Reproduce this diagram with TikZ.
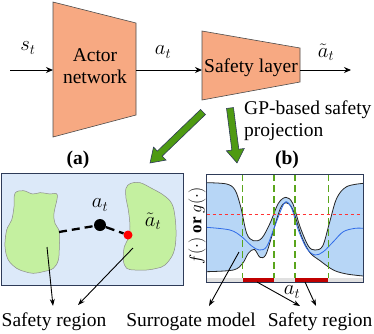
\documentclass[tikz,border=0pt]{standalone}
\usepackage{fontspec}
\setmainfont{Liberation Serif}
\usetikzlibrary{arrows.meta}
\definecolor{salmon}{HTML}{F7A982}
\definecolor{boxblue}{HTML}{DCE9F9}
\definecolor{frame}{HTML}{2E3B58}
\definecolor{blobgreen}{HTML}{C4F0A0}
\definecolor{fatgreen}{HTML}{4E9A12}
\definecolor{vgreen}{HTML}{5AA51C}
\definecolor{bandblue}{HTML}{B7D6F6}
\definecolor{meanblue}{HTML}{2F6BE8}
\definecolor{barred}{HTML}{C00000}
\tikzset{
  netbox/.style={fill=salmon, draw=black!70, line width=0.6pt},
  lbl/.style={font=\fontsize{19.5}{21}\selectfont, inner sep=0pt},
  mlbl/.style={font=\fontsize{22}{24}\selectfont, inner sep=0pt},
  flow/.style={-{Stealth[length=7pt,width=6pt]}, line width=1pt},
  thinarrow/.style={-{Stealth[length=7pt,width=5pt]}, line width=0.9pt},
  fatarrow/.style={fill=fatgreen, draw=frame, line width=0.6pt},
  blob/.style={fill=blobgreen, draw=black!45, line width=0.5pt},
}
\begin{document}
\begin{tikzpicture}[x=1pt,y=-1pt]
\useasboundingbox (0,0) rectangle (374,333);
% actor network
\draw[netbox] (53,2) -- (136,23) -- (136,115) -- (53,137) -- cycle;
\node[lbl, align=center] (actor) at (95,66) {Actor\\[1pt]network};
% safety layer
\draw[netbox] (202,31) -- (300,48) -- (300,82) -- (202,100) -- cycle;
\node[lbl] (safety) at (251,68) {Safety layer};
% flow arrows
\coordinate (in0) at (10,70);
\coordinate (actL) at (53,70);
\coordinate (actR) at (136,70);
\coordinate (safL) at (202,70);
\coordinate (safR) at (300,70);
\coordinate (out1) at (351,70);
\draw[flow] (in0) -- (actL);
\draw[flow] (actR) -- (safL);
\draw[flow] (safR) -- (out1);
\node[mlbl] (st) at (28,48) {$s_t$};
\node[mlbl] (at) at (163,52) {$a_t$};
\node[mlbl] (tat) at (326,52) {$\tilde{a}_t$};
% fat green arrows
\begin{scope}[shift={(203,112)}, x=1pt, y=1pt, rotate=223.9]
\draw[fatarrow] (0,-3.5) -- (60,-3.5) -- (60,-9) -- (73.5,0) -- (60,9) -- (60,3.5) -- (0,3.5) -- cycle;
\end{scope}
\begin{scope}[shift={(230,108)}, x=1pt, y=1pt, rotate=-82.7]
\draw[fatarrow] (0,-3.5) -- (42,-3.5) -- (42,-9) -- (55.4,0) -- (42,9) -- (42,3.5) -- (0,3.5) -- cycle;
\end{scope}
\node[lbl, align=left, anchor=north west] (gp) at (244,101) {GP-based safety\\[1pt]projection};
% (a) panel
\node[lbl] (la) at (78,160) {\textbf{(a)}};
\draw[fill=boxblue, draw=frame, line width=0.7pt] (1,173) rectangle (183,285);
\begin{scope}[shift={(0,170)}, x=1pt/3, y=-1pt/3]
\draw[blob] plot[smooth cycle, tension=0.6] coordinates {(45,70) (70,62) (98,72) (120,68) (150,72) (172,75) (162,130) (165,160) (178,185) (178,230) (175,270) (160,295) (130,305) (100,310) (75,305) (50,295) (25,270) (15,230) (20,180) (35,150) (42,110)};
\draw[blob] plot[smooth cycle, tension=0.6] coordinates {(378,55) (392,40) (420,38) (455,55) (490,75) (515,100) (525,140) (528,200) (520,250) (495,285) (470,295) (440,300) (405,300) (380,295) (370,270) (373,230) (385,205) (390,170) (385,120) (378,85)};
\end{scope}
\coordinate (lb) at (59,232);
\node[circle, fill=black, inner sep=0pt, minimum size=12pt] (bd) at (100,225) {};
\node[circle, fill=red, inner sep=0pt, minimum size=9pt] (rd) at (128,235) {};
\draw[line width=2.3pt, dash pattern=on 8pt off 5pt] (lb) -- (bd);
\draw[line width=2.3pt, dash pattern=on 9pt off 5pt] (bd) -- (rd);
\node[mlbl] (aat) at (100,205) {$a_t$};
\node[mlbl] (aot) at (153,221) {$\tilde{a}_t$};
\coordinate (pa1) at (47,247);
\coordinate (pa2) at (133,248);
\node[lbl] (sr1) at (54,322) {Safety region};
\draw[thinarrow] (pa1) -- (53,306);
\draw[thinarrow] (pa2) -- (78,305);
% (b) panel
\node[lbl] (lb2) at (287,160) {\textbf{(b)}};
\begin{scope}[shift={(200,170)}, x=1pt/3, y=-1pt/3]
\fill[white] (20,12) rectangle (490,337);
\fill[black!12] (20,325) rectangle (490,337);
\fill[bandblue] plot[smooth, tension=0.55] coordinates {(20,38) (80,42) (105,60) (122,110) (140,190) (160,212) (185,205) (210,160) (235,100) (258,82) (278,100) (300,170) (325,228) (345,240) (368,228) (388,160) (410,85) (440,50) (490,40)}
  -- plot[smooth, tension=0.55] coordinates {(490,318) (440,312) (400,300) (360,272) (330,248) (305,200) (278,118) (258,98) (240,118) (215,200) (197,255) (180,262) (163,238) (145,250) (128,280) (100,300) (20,305)} -- cycle;
\draw[black!85, line width=0.8pt] plot[smooth, tension=0.55] coordinates {(20,38) (80,42) (105,60) (122,110) (140,190) (160,212) (185,205) (210,160) (235,100) (258,82) (278,100) (300,170) (325,228) (345,240) (368,228) (388,160) (410,85) (440,50) (490,40)};
\draw[black!85, line width=0.8pt] plot[smooth, tension=0.55] coordinates {(20,305) (100,300) (128,280) (145,250) (163,238) (180,262) (197,255) (215,200) (240,118) (258,98) (278,118) (305,200) (330,248) (360,272) (400,300) (440,312) (490,318)};
\draw[meanblue, line width=0.8pt] plot[smooth, tension=0.55] coordinates {(20,172) (90,180) (125,200) (155,228) (178,240) (200,230) (222,175) (245,115) (258,95) (275,115) (295,180) (320,235) (345,255) (370,245) (400,215) (430,185) (465,175) (490,175)};
\draw[red!80, dashed, line width=0.6pt] (20,133) -- (490,133);
\foreach \xx in {128,222,285,385} \draw[vgreen, line width=1.6pt, dash pattern=on 7pt off 4pt] (\xx,12) -- (\xx,325);
\fill[barred] (128,323) rectangle (222,337);
\fill[barred] (285,323) rectangle (385,337);
\draw[frame, line width=0.7pt] (20,12) rectangle (490,337);
\end{scope}
\node[lbl, rotate=90, font=\fontsize{17}{19}\selectfont] (fg) at (197,226) {$f(\cdot)$ \textbf{or} $g(\cdot)$};
\node[lbl] (bat) at (292,292) {$a_t$};
\coordinate (pb0) at (239,252);
\coordinate (pb1) at (257,282);
\coordinate (pb2) at (305,282);
\node[lbl] (sm) at (191,322) {Surrogate model};
\node[lbl] (sr2) at (320,322) {Safety region};
\draw[thinarrow] (pb0) -- (209,306);
\draw[thinarrow] (pb1) -- (300,306);
\draw[thinarrow] (pb2) -- (316,306);
\end{tikzpicture}
\end{document}
